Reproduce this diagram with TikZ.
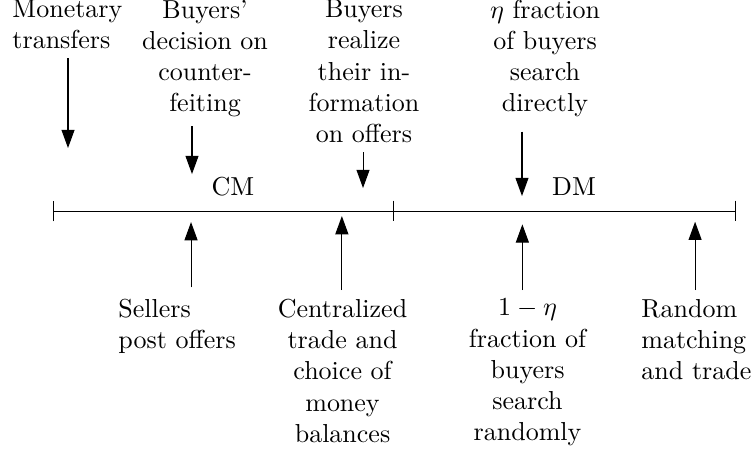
\documentclass[tikz,border=0pt]{standalone}
\usetikzlibrary{arrows.meta, positioning}

\begin{document}
\begin{tikzpicture}
        % 定義樣式
        \tikzstyle{toplabel} = [anchor=north, align=center]
        \tikzstyle{botlabel} = [anchor=north, align=center]
        \tikzstyle{market} = [anchor=base]
        \tikzstyle{arrow} = [->, >={Triangle[length=7pt, width=5pt]}]
        \tikzstyle{tick} = [{Bar[width=8pt]}-{Bar[width=8pt]}]

        \useasboundingbox (-0.7165,-3.285) rectangle (9.463,2.853);

        % 時間軸
        \coordinate (start) at (0,0);
        \coordinate (mid) at (4.61,0);
        \coordinate (stop) at (9.234,0);
        \draw [tick] (start) -- (mid);
        \draw [-{Bar[width=8pt]}] (mid) -- (stop);

        \node (cm) [market] at (2.433,0.216) {CM};
        \node (dm) [market] at (7.043,0.216) {DM};

        % 箭頭終點
        \coordinate (montip) at (0.203,0.852);
        \coordinate (dectip) at (1.879,0.500);
        \coordinate (realtip) at (4.191,0.311);
        \coordinate (etatip) at (6.340,0.203);
        \coordinate (selltip) at (1.866,-0.149);
        \coordinate (centtip) at (3.905,-0.068);
        \coordinate (randtip) at (6.345,-0.180);
        \coordinate (matchtip) at (8.680,-0.145);

        % 上方事件
        \node (monetary) [toplabel, anchor=north west, align=left] at (-0.672,2.977) {Monetary\\transfers};
        \node (decision) [toplabel] at (2.055,2.977) {Buyers'\\decision on\\counter-\\feiting};
        \node (realize) [toplabel] at (4.204,2.977) {Buyers\\realize\\their in-\\formation\\on offers};
        \node (direct) [toplabel] at (6.651,2.977) {$\eta$ fraction\\of buyers\\search\\directly};

        % 下方事件
        \node (sellers) [botlabel, anchor=north west, align=left] at (0.761,-1.068) {Sellers\\post offers};
        \node (central) [botlabel] at (3.914,-1.068) {Centralized\\trade and\\choice of\\money\\balances};
        \node (randomly) [botlabel] at (6.415,-1.068) {$1-\eta$\\fraction of\\buyers\\search\\randomly};
        \node (matching) [botlabel, anchor=north west, align=left] at (7.831,-1.068) {Random\\matching\\and trade};

        % 繪製箭頭
        \draw [arrow] (monetary.south -| montip) -- (montip);
        \draw [arrow] (decision.south -| dectip) -- (dectip);
        \draw [arrow] (realize.south -| realtip) -- (realtip);
        \draw [arrow, shorten <=2pt] (direct.south -| etatip) -- (etatip);
        \draw [arrow, shorten <=1pt] (sellers.north -| selltip) -- (selltip);
        \draw [arrow] (central.north -| centtip) -- (centtip);
        \draw [arrow] (randomly.north -| randtip) -- (randtip);
        \draw [arrow] (matching.north -| matchtip) -- (matchtip);

    \end{tikzpicture}
\end{document}
